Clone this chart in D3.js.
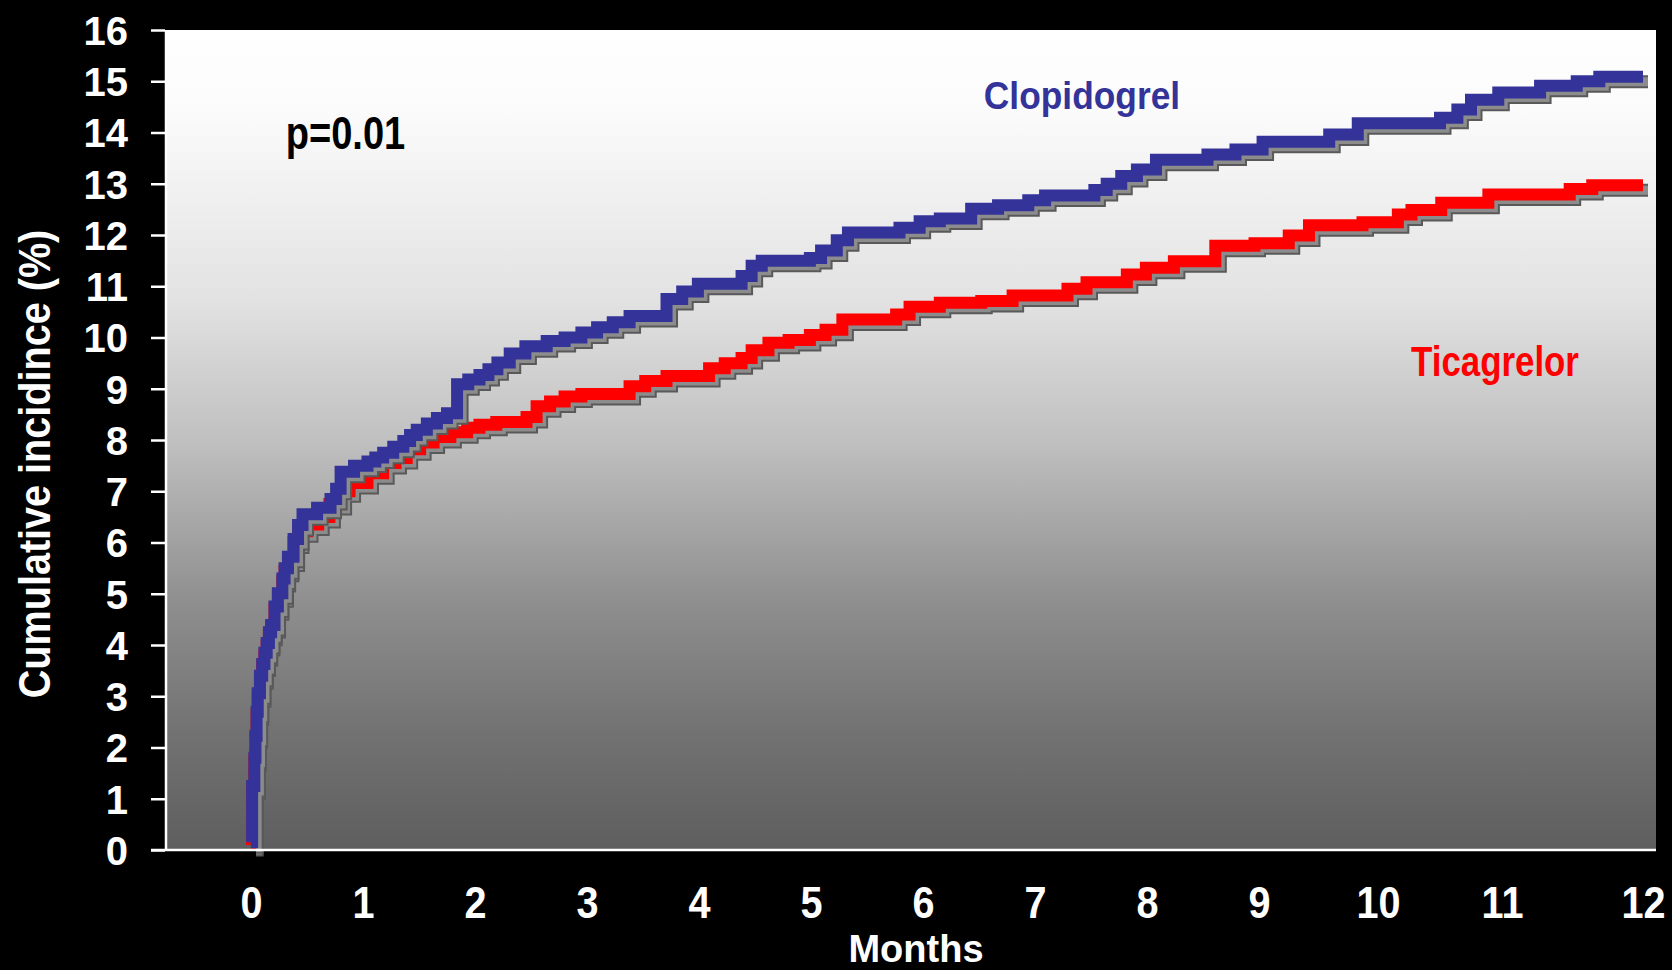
<!DOCTYPE html>
<html>
<head>
<meta charset="utf-8">
<script src="https://cdn.jsdelivr.net/npm/d3@7"></script>
<style>
  body { margin: 0; background: #000; }
  svg { display: block; }
  text { font-family: "Liberation Sans", Arial, Helvetica, sans-serif; font-weight: bold; }
</style>
</head>
<body>
<svg id="chart" width="1672" height="970"></svg>
<script>
// Axis ticks
const monthTicks = [0, 1, 2, 3, 4, 5, 6, 7, 8, 9, 10, 11, 12];
const incidenceTicks = [0, 1, 2, 3, 4, 5, 6, 7, 8, 9, 10, 11, 12, 13, 14, 15, 16];

// Clopidogrel: cumulative incidence (%) by month
const clopidogrelMonths = [0, 0.01, 0.03, 0.04, 0.05, 0.06, 0.08, 0.10, 0.12, 0.14, 0.16, 0.18, 0.21, 0.24, 0.28, 0.30, 0.33, 0.38, 0.42, 0.46, 0.59, 0.71, 0.76, 0.80, 0.92, 1.04, 1.11, 1.18, 1.27, 1.36, 1.42, 1.48, 1.57, 1.66, 1.75, 1.84, 1.94, 2.04, 2.12, 2.20, 2.31, 2.45, 2.64, 2.80, 2.95, 3.09, 3.23, 3.38, 3.71, 3.85, 3.99, 4.38, 4.47, 4.56, 4.99, 5.09, 5.23, 5.33, 5.79, 5.97, 6.15, 6.43, 6.67, 6.94, 7.09, 7.53, 7.64, 7.77, 7.91, 8.08, 8.54, 8.79, 9.03, 9.59, 9.83, 10.50, 10.64, 10.75, 10.97, 11.27, 11.53, 11.69, 12.0];
const clopidogrelPct = [0.15, 1.25, 1.8, 2.23, 2.7, 3.06, 3.4, 3.63, 3.85, 4.04, 4.25, 4.39, 4.75, 5.01, 5.3, 5.5, 5.72, 6.07, 6.34, 6.55, 6.68, 6.85, 7.05, 7.38, 7.5, 7.58, 7.66, 7.75, 7.87, 7.98, 8.1, 8.2, 8.32, 8.43, 8.52, 9.09, 9.18, 9.27, 9.38, 9.51, 9.69, 9.83, 9.93, 10.0, 10.1, 10.2, 10.3, 10.42, 10.75, 10.9, 11.05, 11.2, 11.4, 11.5, 11.55, 11.7, 11.9, 12.05, 12.14, 12.27, 12.32, 12.51, 12.58, 12.68, 12.77, 12.88, 13.0, 13.15, 13.28, 13.47, 13.57, 13.67, 13.82, 13.96, 14.18, 14.29, 14.45, 14.64, 14.78, 14.91, 15.0, 15.09, 15.09];

// Ticagrelor: cumulative incidence (%) by month
const ticagrelorMonths = [0, 0.01, 0.03, 0.04, 0.05, 0.06, 0.08, 0.10, 0.12, 0.14, 0.16, 0.18, 0.21, 0.24, 0.28, 0.30, 0.33, 0.38, 0.42, 0.50, 0.60, 0.70, 0.80, 0.88, 1.04, 1.18, 1.29, 1.39, 1.51, 1.63, 1.78, 1.93, 2.04, 2.19, 2.46, 2.55, 2.67, 2.80, 2.95, 3.38, 3.52, 3.71, 4.09, 4.23, 4.38, 4.47, 4.62, 4.80, 4.99, 5.13, 5.28, 5.76, 5.88, 6.15, 6.52, 6.80, 7.29, 7.46, 7.82, 7.99, 8.24, 8.61, 8.96, 9.25, 9.42, 9.87, 10.16, 10.27, 10.51, 10.89, 11.48, 11.64, 12.0];
const ticagrelorPct = [0.1, 1.2, 1.75, 2.2, 2.65, 3.0, 3.35, 3.6, 3.8, 4.0, 4.2, 4.35, 4.7, 4.95, 5.25, 5.45, 5.65, 6.0, 6.22, 6.35, 6.5, 6.75, 7.0, 7.16, 7.35, 7.55, 7.65, 7.82, 7.95, 8.06, 8.15, 8.24, 8.3, 8.35, 8.45, 8.66, 8.75, 8.85, 8.9, 9.05, 9.15, 9.25, 9.4, 9.5, 9.6, 9.75, 9.9, 9.95, 10.05, 10.15, 10.35, 10.45, 10.6, 10.68, 10.71, 10.82, 10.95, 11.08, 11.23, 11.36, 11.49, 11.79, 11.84, 11.99, 12.19, 12.25, 12.4, 12.49, 12.63, 12.79, 12.9, 12.97, 12.97];

const seriesNames = ["Clopidogrel", "Ticagrelor"];
const pValueText = "p=0.01";
const xTitle = "Months";
const yTitle = "Cumulative incidince (%)";

const svg = d3.select("#chart");

// Plot frame
const plot = { left: 166, right: 1656, top: 30, bottom: 850 };

// Month axis is spaced evenly up to 9, with the last three months drawn wider
const x = d3.scaleLinear()
  .domain([0, 9, 10, 11, 12])
  .range([251, 1259, 1378, 1502, 1643]);
const y = d3.scaleLinear().domain([0, 16]).range([plot.bottom, plot.top]);

// Background gradient: white at the top fading to dark grey
const defs = svg.append("defs");
const grad = defs.append("linearGradient")
  .attr("id", "bg").attr("x1", 0).attr("y1", 0).attr("x2", 0).attr("y2", 1);
[[0, "#ffffff"], [0.1, "#fbfbfb"], [0.33, "#e2e2e2"], [0.5, "#c0c0c0"],
 [0.7, "#8e8e8e"], [0.85, "#737373"], [1, "#5e5e5e"]].forEach(([o, c]) =>
  grad.append("stop").attr("offset", o).attr("stop-color", c));

svg.append("rect")
  .attr("x", plot.left).attr("y", plot.top)
  .attr("width", plot.right - plot.left).attr("height", plot.bottom - plot.top)
  .attr("fill", "url(#bg)");

// Curves
const line = d3.line()
  .x(d => x(d[0]))
  .y(d => y(d[1]))
  .curve(d3.curveStepAfter);

const series = [
  { name: seriesNames[1], color: "#ff0000", pts: d3.zip(ticagrelorMonths, ticagrelorPct) },
  { name: seriesNames[0], color: "#333399", pts: d3.zip(clopidogrelMonths, clopidogrelPct) }
];

const curves = svg.append("g");
series.forEach(s => {
  const shadow = curves.append("g").attr("transform", "translate(5,5)");
  shadow.append("path").attr("d", line(s.pts))
    .attr("fill", "none").attr("stroke", "#595959").attr("stroke-width", 13);
  shadow.append("path").attr("d", line(s.pts))
    .attr("fill", "none").attr("stroke", "#8c8c8c").attr("stroke-width", 9);
  curves.append("path").attr("d", line(s.pts))
    .attr("fill", "none").attr("stroke", s.color).attr("stroke-width", 12)
    .attr("stroke-linejoin", "miter");
});

// Axis lines
svg.append("line")
  .attr("x1", plot.left).attr("x2", plot.left)
  .attr("y1", plot.top).attr("y2", plot.bottom + 1)
  .attr("stroke", "#fff").attr("stroke-width", 2.5);
svg.append("line")
  .attr("x1", 151).attr("x2", plot.right)
  .attr("y1", plot.bottom).attr("y2", plot.bottom)
  .attr("stroke", "#fff").attr("stroke-width", 2.5);

// Y axis ticks and labels
const yAxis = svg.append("g")
  .attr("transform", `translate(${plot.left - 1},0)`)
  .call(d3.axisLeft(y).tickValues(incidenceTicks).tickSize(14).tickSizeOuter(0).tickPadding(23));
yAxis.select(".domain").remove();
yAxis.selectAll(".tick line").attr("stroke", "#fff").attr("stroke-width", 2.5);
yAxis.selectAll(".tick text")
  .attr("fill", "#fff").attr("font-size", 40)
  .attr("font-family", null).attr("dy", "0.36em");

// X axis labels
const xAxis = svg.append("g")
  .attr("transform", `translate(0,${plot.bottom})`)
  .call(d3.axisBottom(x).tickValues(monthTicks).tickSize(0).tickFormat(d3.format("d")));
xAxis.select(".domain").remove();
xAxis.selectAll(".tick text")
  .attr("fill", "#fff").attr("font-size", 44).attr("font-family", null)
  .attr("y", null).attr("dy", null)
  .attr("transform", "translate(0,68) scale(0.9,1)");

// Axis titles
svg.append("text")
  .attr("transform", "translate(916,962)")
  .attr("text-anchor", "middle").attr("fill", "#fff").attr("font-size", 38)
  .text(xTitle);
svg.append("text")
  .attr("transform", "translate(50,464) rotate(-90) scale(0.9,1)")
  .attr("text-anchor", "middle").attr("fill", "#fff").attr("font-size", 44)
  .text(yTitle);

// Annotations
svg.append("text")
  .attr("transform", "translate(345.5,149) scale(0.81,1)")
  .attr("text-anchor", "middle").attr("fill", "#000").attr("font-size", 47)
  .text(pValueText);
svg.append("text")
  .attr("transform", "translate(1082,109) scale(0.93,1)")
  .attr("text-anchor", "middle").attr("fill", "#333399").attr("font-size", 38)
  .text(seriesNames[0]);
svg.append("text")
  .attr("transform", "translate(1495,376) scale(0.83,1)")
  .attr("text-anchor", "middle").attr("fill", "#ff0000").attr("font-size", 42)
  .text(seriesNames[1]);
</script>
</body>
</html>
